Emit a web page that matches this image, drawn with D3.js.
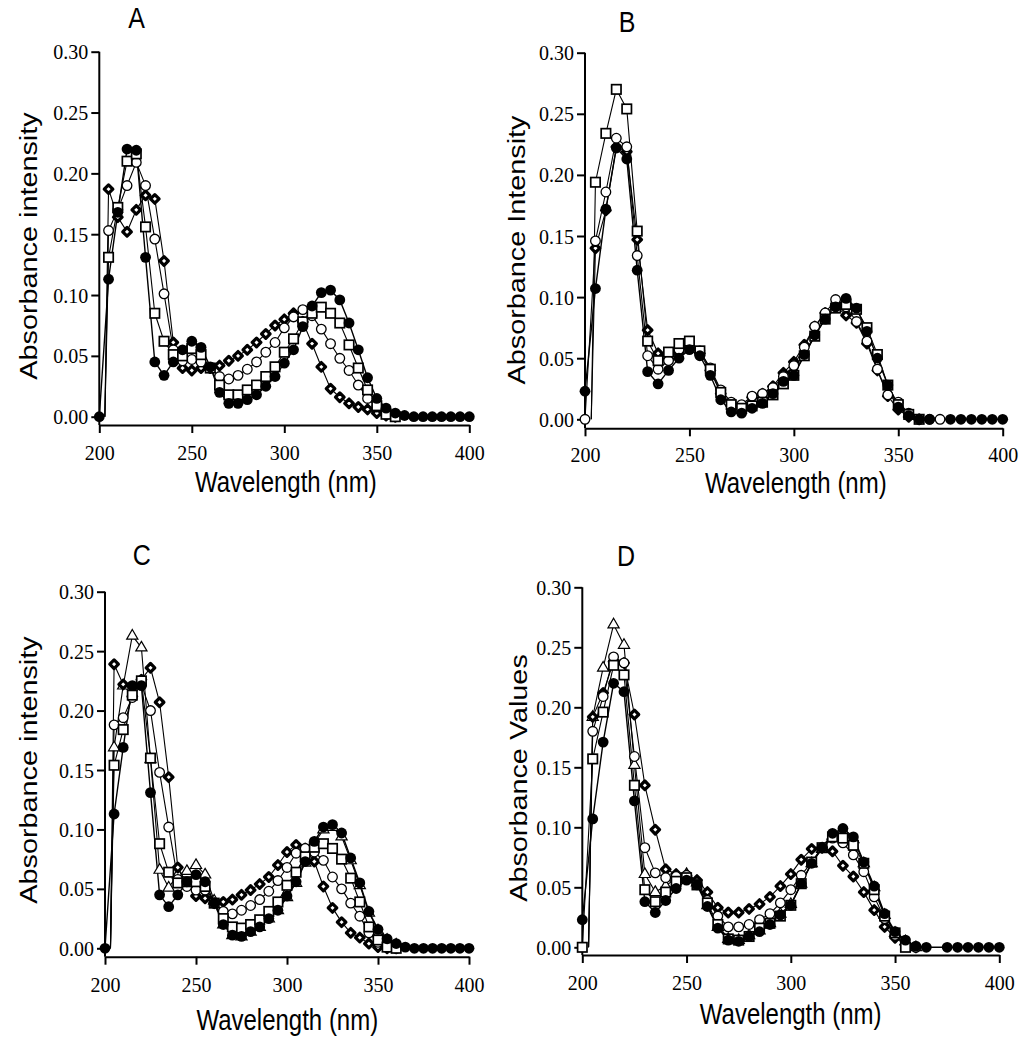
<!DOCTYPE html>
<html><head><meta charset="utf-8">
<script src="https://cdn.jsdelivr.net/npm/d3@7"></script>
<style>body{margin:0;background:#fff}svg{display:block}</style>
</head><body>
<svg id="chart" width="1024" height="1050"></svg>
<script>
// ---------- data ----------
const wavelengths = [200,205,210,215,220,225,230,235,240,245,250,255,260,265,270,275,280,285,290,295,300,
  305,310,315,320,325,330,335,340,345,350,355,360,365,370,375,380,385,390,395,400];
const xTicks = [200,250,300,350,400];
const yTicks = [0,0.05,0.10,0.15,0.20,0.25,0.30];
const panelTitles = ["A","B","C","D"];
const yTitles = ["Absorbance intensity","Absorbance Intensity","Absorbance intensity","Absorbance Values"];
const xTitle = "Wavelength (nm)";
const leadInWavelength = 203;
const N = null;

// Panel A
const aFilled  = [0.000,0.113,0.168,0.220,0.219,0.131,0.045,0.034,0.045,0.055,0.062,0.057,0.041,0.020,0.011,0.011,0.014,0.018,0.025,0.033,0.044,0.055,0.074,0.091,0.102,0.104,0.096,0.077,0.055,0.032,0.015,0.007,0.003,0.001,0,0,0,0,0,0,0];
const aOpen    = [N,0.153,0.170,0.190,0.209,0.190,0.146,0.101,0.055,0.046,0.047,0.045,0.040,0.033,0.031,0.034,0.039,0.045,0.053,0.061,0.073,0.082,0.088,0.083,0.072,0.060,0.048,0.038,0.026,0.015,0.008,0.003,0.001,N,N,N,N,N,N,N,N];
const aSquare  = [N,0.131,0.172,0.210,0.216,0.156,0.085,0.062,0.051,0.050,0.056,0.051,0.040,0.026,0.018,0.018,0.022,0.026,0.033,0.041,0.053,0.064,0.078,0.085,0.090,0.085,0.077,0.059,0.040,0.022,0.009,0.002,0.000,N,N,N,N,N,N,N,N];
const aDiamond = [N,0.187,0.164,0.152,0.170,0.182,0.179,0.128,0.061,0.040,0.038,0.040,0.040,0.042,0.046,0.050,0.055,0.061,0.068,0.075,0.080,0.085,0.078,0.060,0.041,0.023,0.016,0.011,0.008,0.006,0.003,0.001,0.000,N,N,N,N,N,N,N,N];

// Panel B
const bFilled  = [0.023,0.107,0.172,0.222,0.213,0.122,0.039,0.029,0.040,0.050,0.057,0.052,0.036,0.016,0.006,0.005,0.009,0.013,0.021,0.031,0.036,0.053,0.069,0.082,0.092,0.099,0.091,0.072,0.050,0.028,0.010,0.003,0.000,0.000,N,0,0,0,0,0,0];
const bOpen    = [0.000,0.146,0.186,0.230,0.223,0.134,0.052,0.041,0.048,0.057,0.059,0.056,0.042,0.024,0.014,0.012,0.019,0.021,0.026,0.035,0.044,0.059,0.076,0.087,0.098,0.092,0.080,0.064,0.041,0.020,0.014,0.005,0.000,0.000,0.000,N,N,N,N,N,N];
const bSquare  = [N,0.194,0.234,0.270,0.254,0.154,0.064,0.048,0.055,0.062,0.064,0.056,0.041,0.022,0.012,0.009,0.011,0.014,0.020,0.029,0.036,0.052,0.068,0.082,0.091,0.094,0.090,0.075,0.053,0.028,0.012,0.004,0.000,N,N,N,N,N,N,N,N];
const bDiamond = [N,0.140,0.171,0.223,0.219,0.147,0.073,0.054,0.049,0.055,0.059,0.054,0.040,0.021,0.011,0.010,0.018,0.021,0.027,0.038,0.047,0.061,0.076,0.087,0.093,0.085,0.079,0.062,0.040,0.019,0.008,0.002,0.000,N,N,N,N,N,N,N,N];

// Panel C
const cFilled   = [0.000,0.113,0.169,0.221,0.221,0.131,0.045,0.035,0.045,0.056,0.062,0.056,0.038,0.020,0.011,0.010,0.014,0.018,0.025,0.032,0.044,0.056,0.073,0.090,0.102,0.104,0.097,0.076,0.055,0.031,0.016,0.008,0.004,0.001,0,0,0,0,0,0,0];
const cOpen     = [N,0.188,0.194,0.211,0.222,0.200,0.148,0.102,0.058,0.052,0.049,0.049,0.038,0.031,0.029,0.032,0.036,0.041,0.048,0.057,0.068,0.080,0.084,0.081,0.074,0.060,0.050,0.038,0.027,0.013,0.005,0.001,0.000,N,N,N,N,N,N,N,N];
const cSquare   = [N,0.154,0.184,0.213,0.225,0.160,0.088,0.064,0.055,0.056,0.056,0.052,0.038,0.025,0.018,0.017,0.020,0.024,0.031,0.039,0.053,0.064,0.077,0.085,0.088,0.084,0.075,0.059,0.039,0.018,0.007,0.001,0.000,N,N,N,N,N,N,N,N];
const cDiamond  = [N,0.239,0.222,0.212,0.226,0.236,0.207,0.144,0.068,0.054,0.044,0.042,0.038,0.039,0.041,0.045,0.049,0.054,0.060,0.070,0.081,0.087,0.084,0.073,0.052,0.034,0.022,0.013,0.009,0.004,0.001,0.000,0.000,N,N,N,N,N,N,N,N];
const cTriangle = [N,0.169,0.221,0.263,0.253,0.159,0.066,0.051,0.062,0.065,0.070,0.062,0.040,0.020,0.011,0.010,0.014,0.018,0.025,0.032,0.043,0.055,0.072,0.088,0.100,0.102,0.094,0.074,0.053,0.030,0.015,0.007,0.003,N,N,N,N,N,N,N,N];

// Panel D
const dFilled   = [0.023,0.107,0.171,0.220,0.213,0.122,0.038,0.029,0.039,0.049,0.056,0.052,0.034,0.016,0.006,0.005,0.009,0.013,0.019,0.027,0.035,0.053,0.070,0.083,0.095,0.099,0.092,0.071,0.051,0.028,0.013,0.006,0.001,0.000,N,0,0,0,0,0,0];
const dOpen     = [N,0.180,0.209,0.242,0.237,0.159,0.083,0.062,0.058,0.059,0.060,0.053,0.039,0.026,0.017,0.017,0.019,0.023,0.028,0.037,0.048,0.060,0.071,0.083,0.091,0.087,0.077,0.063,0.042,0.024,0.010,0.002,0.000,N,N,N,N,N,N,N,N];
const dSquare   = [0.000,0.157,0.196,0.235,0.227,0.135,0.048,0.038,0.046,0.055,0.058,0.052,0.037,0.019,0.007,0.006,0.009,0.016,0.020,0.026,0.035,0.053,0.071,0.083,0.092,0.091,0.085,0.070,0.048,0.026,0.012,0.000,N,N,N,N,N,N,N,N,N];
const dDiamond  = [N,0.192,0.212,0.238,0.237,0.194,0.135,0.098,0.065,0.061,0.060,0.056,0.046,0.033,0.029,0.029,0.032,0.036,0.042,0.051,0.061,0.073,0.082,0.083,0.080,0.068,0.059,0.046,0.031,0.017,0.008,0.002,0.000,N,N,N,N,N,N,N,N];
const dTriangle = [N,0.192,0.233,0.269,0.252,0.152,0.061,0.046,0.051,0.058,0.061,0.054,0.035,0.017,0.007,0.006,0.010,0.014,0.020,0.028,0.036,0.053,0.070,0.082,0.093,0.097,0.090,0.070,0.050,0.027,0.012,0.005,0.000,N,N,N,N,N,N,N,N];

// ---------- layout ----------
const layouts = [
  {x0:99.3, x1:469.3, yTop:51.7, yZero:416.7, axisY:425,   tickLab:35,   title:[136.7,28.3], xTitle:[285.8,492], yTitle:[37,246]},
  {x0:585,  x1:1002.7,yTop:52.7, yZero:419.3, axisY:428.3, tickLab:33.5, title:[627,31.7],   xTitle:[795.8,493], yTitle:[525,250]},
  {x0:105,  x1:469,   yTop:591.7,yZero:948.3, axisY:956.7, tickLab:35,   title:[141.7,565],  xTitle:[287.3,1030],yTitle:[37,770]},
  {x0:582.3,x1:999.3, yTop:587.3,yZero:947.3, axisY:955,   tickLab:35,   title:[626,566],    xTitle:[790.7,1024],yTitle:[527,778]}
];
const panelSeries = [
  [{v:aDiamond,m:"diamond"},{v:aOpen,m:"open"},{v:aSquare,m:"square"},{v:aFilled,m:"filled"}],
  [{v:bDiamond,m:"diamond"},{v:bOpen,m:"open"},{v:bSquare,m:"square"},{v:bFilled,m:"filled"}],
  [{v:cTriangle,m:"triangle"},{v:cDiamond,m:"diamond"},{v:cOpen,m:"open"},{v:cSquare,m:"square"},{v:cFilled,m:"filled"}],
  [{v:dTriangle,m:"triangle"},{v:dDiamond,m:"diamond"},{v:dOpen,m:"open"},{v:dSquare,m:"square"},{v:dFilled,m:"filled"}]
];

const SANS = "'Liberation Sans', Arial, Helvetica, sans-serif";
const SERIF = "'Liberation Serif', 'Times New Roman', serif";
const svg = d3.select("#chart");

function drawMarker(g, type, px, py) {
  if (type === "filled") {
    g.append("circle").attr("cx",px).attr("cy",py).attr("r",5.4).attr("fill","#000");
  } else if (type === "open") {
    g.append("circle").attr("cx",px).attr("cy",py).attr("r",4.8).attr("fill","#fff").attr("stroke","#000").attr("stroke-width",1.3);
  } else if (type === "square") {
    g.append("rect").attr("x",px-4.7).attr("y",py-4.7).attr("width",9.4).attr("height",9.4)
      .attr("fill","#fff").attr("stroke","#000").attr("stroke-width",1.7);
  } else if (type === "diamond") {
    const s = 4.3;
    g.append("path").attr("d",`M${px},${py-s}L${px+s},${py}L${px},${py+s}L${px-s},${py}Z`)
      .attr("fill","#fff").attr("stroke","#000").attr("stroke-width",3.2).attr("stroke-linejoin","round");
  } else if (type === "triangle") {
    g.append("path").attr("d",`M${px},${py-6.2}L${px+5.6},${py+3.4}L${px-5.6},${py+3.4}Z`)
      .attr("fill","#fff").attr("stroke","#000").attr("stroke-width",1.2);
  }
}

layouts.forEach((L, pi) => {
  const x = d3.scaleLinear().domain([200,400]).range([L.x0, L.x1]);
  const y = d3.scaleLinear().domain([0,0.30]).range([L.yZero, L.yTop]);
  const g = svg.append("g");

  // x axis
  const gx = g.append("g").attr("transform",`translate(0,${L.axisY})`)
    .call(d3.axisBottom(x).tickValues(xTicks).tickSize(8).tickSizeOuter(0).tickFormat(d3.format("d")));
  gx.select(".domain").attr("stroke","#000").attr("stroke-width",2);
  gx.selectAll(".tick line").attr("stroke","#000").attr("stroke-width",2);
  gx.selectAll(".tick text").attr("y",null).attr("dy",null)
    .attr("transform",`translate(0,${L.tickLab}) scale(1,1.1)`)
    .attr("font-family",SERIF).attr("font-size",20).attr("fill","#000");

  // y axis
  const gy = g.append("g").attr("transform",`translate(${L.x0},0)`)
    .call(d3.axisLeft(y).tickValues(yTicks).tickSize(8).tickSizeOuter(0).tickFormat(d3.format(".2f")));
  gy.select(".domain").remove();
  gy.selectAll(".tick line").attr("stroke","#000").attr("stroke-width",2);
  gy.selectAll(".tick text").attr("x",null).attr("dy",null)
    .attr("transform","translate(-11,7) scale(1,1.1)")
    .attr("font-family",SERIF).attr("font-size",20).attr("fill","#000");
  g.append("line").attr("x1",L.x0).attr("x2",L.x0).attr("y1",L.yTop).attr("y2",L.axisY)
    .attr("stroke","#000").attr("stroke-width",2);

  // series lines, then markers
  const series = panelSeries[pi];
  const line = d3.line().x(d=>x(d.wl)).y(d=>y(d.v));
  const lineG = g.append("g");
  const markG = g.append("g");
  series.forEach(s => {
    const pts = wavelengths.map((wl,i)=>({wl, v:s.v[i]})).filter(d=>d.v!==null);
    const linePts = (s.v[0] === null) ? [{wl:leadInWavelength, v:0}].concat(pts) : pts;
    lineG.append("path").attr("d",line(linePts)).attr("fill","none")
      .attr("stroke","#000").attr("stroke-width", s.m==="filled"?1.4:1.1);
  });
  series.forEach(s => {
    wavelengths.forEach((wl,i)=>{
      if (s.v[i] !== null) drawMarker(markG, s.m, x(wl), y(s.v[i]));
    });
  });

  // titles
  g.append("text").text(panelTitles[pi])
    .attr("transform",`translate(${L.title[0]},${L.title[1]}) scale(1,1.2)`)
    .attr("text-anchor","middle").attr("font-family",SANS).attr("font-size",25).attr("fill","#000");
  g.append("text").text(xTitle)
    .attr("transform",`translate(${L.xTitle[0]},${L.xTitle[1]}) scale(1,1.2)`)
    .attr("text-anchor","middle").attr("font-family",SANS).attr("font-size",24).attr("fill","#000");
  g.append("text").text(yTitles[pi])
    .attr("transform",`translate(${L.yTitle[0]},${L.yTitle[1]}) scale(1,1.2) rotate(-90)`)
    .attr("text-anchor","middle").attr("font-family",SANS).attr("font-size",24).attr("fill","#000");
});
</script>
</body></html>
